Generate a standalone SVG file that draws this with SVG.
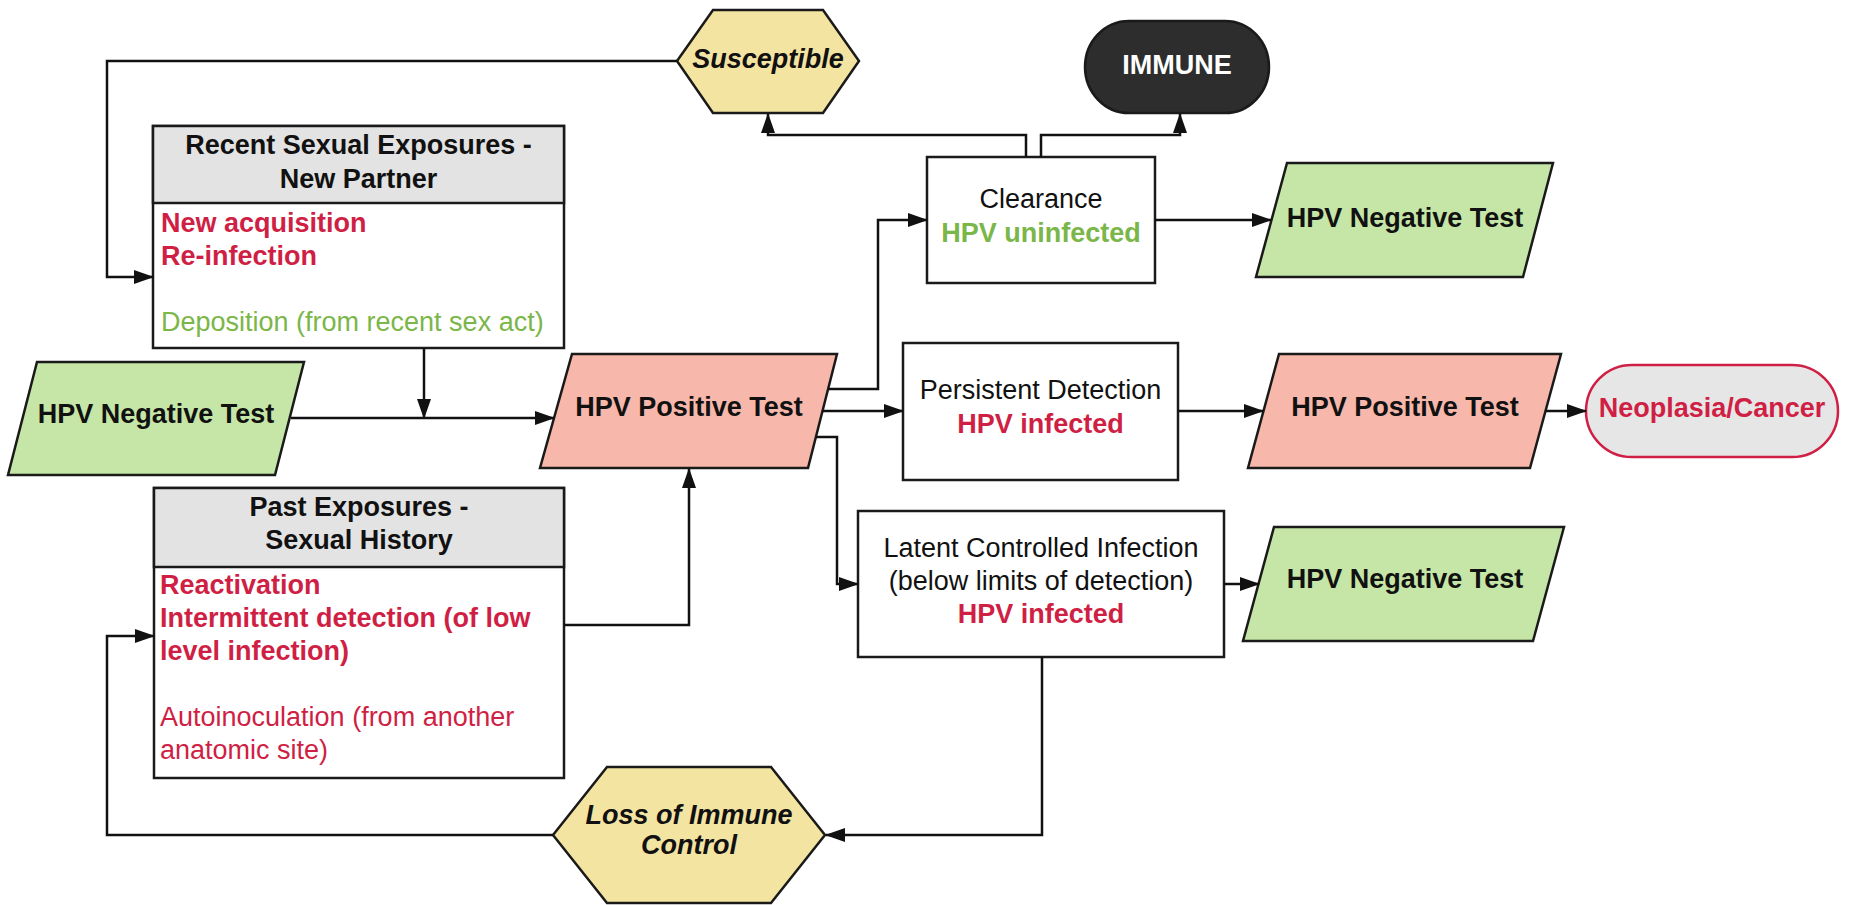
<svg xmlns="http://www.w3.org/2000/svg" width="1849" height="905" viewBox="0 0 1849 905">
  <defs>
    <marker id="arrow" markerUnits="userSpaceOnUse" markerWidth="20" markerHeight="14" refX="19" refY="7" orient="auto">
      <path d="M0,0 L20,7 L0,14 z" fill="#111"/>
    </marker>
  </defs>
  <style>
    text { font-family: "Liberation Sans", Arial, sans-serif; font-size: 27px; fill: #111; }
    .b { font-weight: bold; }
    .i { font-style: italic; }
    .c { text-anchor: middle; }
    .red { fill: #cf1f45; }
    .grn { fill: #7ab648; }
    .wht { fill: #fff; }
    .box { fill: #fff; stroke: #1a1a1a; stroke-width: 2.5; }
    .hdr { fill: #e3e3e3; stroke: #1a1a1a; stroke-width: 2.5; }
    .neg { fill: #c5e6a6; stroke: #1a1a1a; stroke-width: 2.5; }
    .pos { fill: #f7b7ab; stroke: #1a1a1a; stroke-width: 2.5; }
    .hex { fill: #f4e4a2; stroke: #1a1a1a; stroke-width: 2.5; }
    .wire { fill: none; stroke: #111; stroke-width: 2.5; marker-end: url(#arrow); }
  </style>

  <rect width="1849" height="905" fill="#fff"/>

  <!-- Susceptible state -->
  <g id="susceptible">
    <polygon class="hex" points="677,61 713,10 823,10 859,61 823,113 713,113"/>
    <text class="b i c" x="768" y="68">Susceptible</text>
  </g>

  <!-- Immune state -->
  <g id="immune">
    <rect x="1085" y="21" width="184" height="92" rx="44" ry="46" fill="#2d2d2d" stroke="#1a1a1a" stroke-width="2.5"/>
    <text class="b c wht" x="1177" y="74">IMMUNE</text>
  </g>

  <!-- Recent exposures -->
  <g id="recent-exposures">
    <rect class="box" x="153" y="126" width="411" height="222"/>
    <rect class="hdr" x="153" y="126" width="411" height="77"/>
    <text class="b c" x="358.5" y="154">Recent Sexual Exposures -</text>
    <text class="b c" x="358.5" y="188">New Partner</text>
    <text class="b red" x="161" y="232">New acquisition</text>
    <text class="b red" x="161" y="265">Re-infection</text>
    <text class="grn" x="161" y="331">Deposition (from recent sex act)</text>
  </g>

  <!-- Past exposures -->
  <g id="past-exposures">
    <rect class="box" x="154" y="488" width="410" height="290"/>
    <rect class="hdr" x="154" y="488" width="410" height="79"/>
    <text class="b c" x="359" y="516">Past Exposures -</text>
    <text class="b c" x="359" y="549">Sexual History</text>
    <text class="b red" x="160" y="594">Reactivation</text>
    <text class="b red" x="160" y="627">Intermittent detection (of low</text>
    <text class="b red" x="160" y="660">level infection)</text>
    <text class="red" x="160" y="726">Autoinoculation (from another</text>
    <text class="red" x="160" y="759">anatomic site)</text>
  </g>

  <!-- Initial negative test -->
  <g id="neg-test-start">
    <polygon class="neg" points="37,362 304,362 275,475 8,475"/>
    <text class="b c" x="156" y="423">HPV Negative Test</text>
  </g>

  <!-- Positive test -->
  <g id="pos-test">
    <polygon class="pos" points="572,354 837,354 808,468 540,468"/>
    <text class="b c" x="689" y="416">HPV Positive Test</text>
  </g>

  <!-- Clearance -->
  <g id="clearance">
    <rect class="box" x="927" y="157" width="228" height="126"/>
    <text class="c" x="1041" y="208">Clearance</text>
    <text class="b c grn" x="1041" y="242">HPV uninfected</text>
  </g>

  <!-- Persistent detection -->
  <g id="persistent">
    <rect class="box" x="903" y="343" width="275" height="137"/>
    <text class="c" x="1040.5" y="399">Persistent Detection</text>
    <text class="b c red" x="1040.5" y="433">HPV infected</text>
  </g>

  <!-- Latent controlled infection -->
  <g id="latent">
    <rect class="box" x="858" y="511" width="366" height="146"/>
    <text class="c" x="1041" y="557">Latent Controlled Infection</text>
    <text class="c" x="1041" y="590">(below limits of detection)</text>
    <text class="b c red" x="1041" y="623">HPV infected</text>
  </g>

  <!-- Negative test after clearance -->
  <g id="neg-test-clear">
    <polygon class="neg" points="1287,163 1553,163 1523,277 1256,277"/>
    <text class="b c" x="1405" y="227">HPV Negative Test</text>
  </g>

  <!-- Positive test after persistence -->
  <g id="pos-test-persist">
    <polygon class="pos" points="1279,354 1561,354 1530,468 1248,468"/>
    <text class="b c" x="1405" y="416">HPV Positive Test</text>
  </g>

  <!-- Negative test during latency -->
  <g id="neg-test-latent">
    <polygon class="neg" points="1274,527 1564,527 1533,641 1243,641"/>
    <text class="b c" x="1405" y="588">HPV Negative Test</text>
  </g>

  <!-- Neoplasia -->
  <g id="neoplasia">
    <rect x="1586" y="365" width="252" height="92" rx="46" fill="#e6e6e6" stroke="#cf1f45" stroke-width="2.5"/>
    <text class="b c red" x="1712" y="417">Neoplasia/Cancer</text>
  </g>

  <!-- Loss of immune control -->
  <g id="loss-control">
    <polygon class="hex" points="553,835 607,767 771,767 825,835 771,903 607,903"/>
    <text class="b i c" x="689" y="824">Loss of Immune</text>
    <text class="b i c" x="689" y="854">Control</text>
  </g>

  <!-- Connectors -->
  <g id="connectors">
    <path class="wire" d="M677,61 H107 V277 H153"/>
    <path class="wire" d="M424,348 V418"/>
    <path class="wire" d="M291,418 H554"/>
    <path class="wire" d="M828,389 H878 V220 H927"/>
    <path class="wire" d="M822,411 H903"/>
    <path class="wire" d="M816,437 H837 V584 H858"/>
    <path class="wire" d="M564,625 H689 V469"/>
    <path class="wire" d="M1026,157 V135 H768 V114"/>
    <path class="wire" d="M1041,157 V135 H1180 V114"/>
    <path class="wire" d="M1155,220 H1271"/>
    <path class="wire" d="M1178,411 H1263"/>
    <path class="wire" d="M1545,411 H1586"/>
    <path class="wire" d="M1224,584 H1259"/>
    <path class="wire" d="M1042,657 V835 H826"/>
    <path class="wire" d="M553,835 H107 V636 H154"/>
  </g>
</svg>
